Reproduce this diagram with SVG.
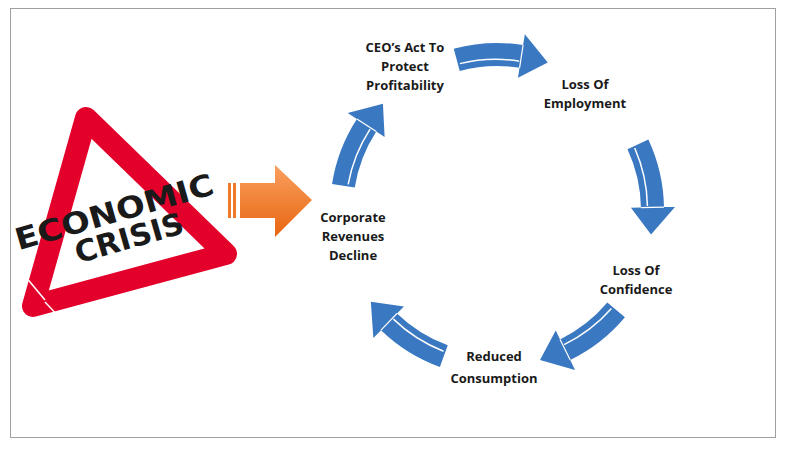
<svg xmlns="http://www.w3.org/2000/svg" width="785" height="449" viewBox="0 0 785 449">
<defs>
<style>
.lbl{font-family:"Open Sans","Liberation Sans",sans-serif;font-weight:bold;font-size:13px;fill:#1a1a1a;text-anchor:middle}
.st{font-family:"DejaVu Sans","Liberation Sans",sans-serif;font-weight:bold;fill:#1a1a1a;text-anchor:middle}
</style>
<linearGradient id="og" x1="0" y1="0" x2="0" y2="1"><stop offset="0" stop-color="#f9a060"/><stop offset="1" stop-color="#e8650f"/></linearGradient>
<g id="arr">
<path d="M167,0 A167,167 0 0 1 152.6,67.9 L162.6,72.4 L129.3,87.2 L122.4,54.5 L131.5,58.6 A144,144 0 0 0 144,0 Z" fill="#3a78c2"/>
<path d="M151,2 A151,151 0 0 1 138,60" fill="none" stroke="#fff" stroke-width="1.5"/>
<path d="M152.6,67.9 L131.5,58.6" fill="none" stroke="#fff" stroke-width="1.2"/>
</g>
</defs>
<rect width="785" height="449" fill="#fff"/>
<rect x="10.5" y="8.5" width="765" height="429" fill="none" stroke="#a0a0a0"/>
<g id="warning">
<polygon points="86,118 226,254 33,306" fill="#fff" stroke="#e3002b" stroke-width="22" stroke-linejoin="round"/>
<line x1="20" y1="270" x2="45" y2="300" stroke="#fff" stroke-width="1.5"/>
<line x1="45" y1="302" x2="60" y2="318" stroke="#fff" stroke-width="1.5"/>
<text class="st" font-size="30" textLength="205" lengthAdjust="spacingAndGlyphs" transform="translate(117,222) rotate(-16)">ECONOMIC</text>
<text class="st" font-size="30" textLength="112" lengthAdjust="spacingAndGlyphs" transform="translate(132,248) rotate(-16)">CRISIS</text>
</g>
<g id="orange-arrow">
<path d="M240,183 H275 V165 L312,200 L275,237 V218 H240 Z" fill="url(#og)"/>
<rect x="228" y="183" width="3" height="35" fill="#ee7a2a"/>
<rect x="233" y="183" width="3" height="35" fill="#ee7a2a"/>
</g>
<g id="connectors">
<use href="#arr" transform="translate(497,210) rotate(-105)"/>
<use href="#arr" transform="translate(497,210) rotate(-25)"/>
<use href="#arr" transform="translate(497,210) rotate(40)"/>
<use href="#arr" transform="translate(497,210) rotate(110)"/>
<use href="#arr" transform="translate(497,210) rotate(189)"/>
</g>
<g id="n1"><text class="lbl" x="405" y="52">CEO’s Act To</text><text class="lbl" x="405" y="71">Protect</text><text class="lbl" x="405" y="90">Profitability</text></g>
<g id="n2"><text class="lbl" x="585" y="89">Loss Of</text><text class="lbl" x="585" y="108">Employment</text></g>
<g id="n3"><text class="lbl" x="636" y="275">Loss Of</text><text class="lbl" x="636" y="294">Confidence</text></g>
<g id="n4"><text class="lbl" x="494" y="361">Reduced</text><text class="lbl" x="494" y="383">Consumption</text></g>
<g id="n5"><text class="lbl" x="353" y="222">Corporate</text><text class="lbl" x="353" y="241">Revenues</text><text class="lbl" x="353" y="260">Decline</text></g>
</svg>
